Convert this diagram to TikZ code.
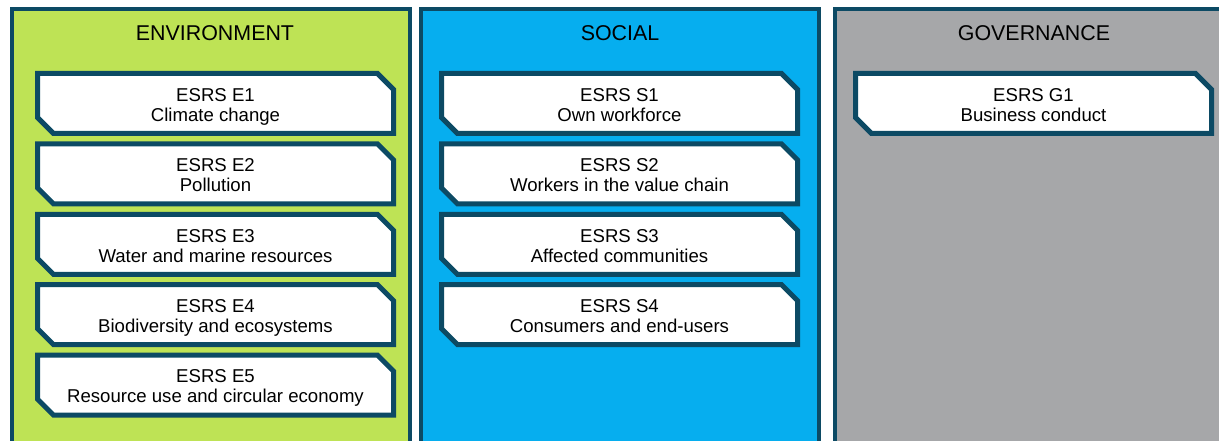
\documentclass[tikz,border=0pt]{standalone}
\usepackage{fontspec}
\setmainfont{Liberation Sans}
\usetikzlibrary{positioning, chains, shapes.misc}

\definecolor{esrsline}{RGB}{12,74,100}
\definecolor{envgreen}{RGB}{190,227,85}
\definecolor{socblue}{RGB}{6,174,239}
\definecolor{govgrey}{RGB}{166,167,169}

% code on the first line, topic on the second
\newcommand\esrs[2]{\rule{0pt}{15.4pt}#1\\\smash{#2}}

\begin{document}
\begin{tikzpicture}[
   x=1pt, y=-1pt,
   node distance = 10.4pt,
   column/.style = {draw=esrsline, line width=4pt, rectangle, outer sep=0pt,
      minimum width=398pt, minimum height=480pt, anchor=north},
   heading/.style = {font=\fontsize{21.4}{25}\selectfont},
   topic/.style = {chamfered rectangle,
      chamfered rectangle corners={north east, south west},
      chamfered rectangle xsep=8pt, chamfered rectangle ysep=8pt,
      draw=esrsline, fill=white, line width=5pt, outer sep=0pt,
      minimum width=356pt, minimum height=60pt, inner sep=0pt,
      align=center, font=\fontsize{18.6}{20}\selectfont, on chain}]
   \useasboundingbox (0,0) rectangle (1219,441);
   \clip (0,0) rectangle (1219,441);

   % the three pillars
   \node[column, fill=envgreen] (env) at (210.5,9) {};
   \node[column, fill=socblue]  (soc) at (620,9) {};
   \node[column, fill=govgrey]  (gov) at (1034,9) {};

   \node[heading] (env-head) at (215,33) {ENVIRONMENT};
   \node[heading] (soc-head) at (620,33) {SOCIAL};
   \node[heading] (gov-head) at (1034,33) {GOVERNANCE};

   % environmental standards
   \begin{scope}[start chain = going below]
   \node[topic, at={(215.5,103.5)}] (e1) {\esrs{ESRS E1}{Climate change}};
   \node[topic] (e2) {\esrs{ESRS E2}{Pollution}};
   \node[topic] (e3) {\esrs{ESRS E3}{Water and marine resources}};
   \node[topic] (e4) {\esrs{ESRS E4}{Biodiversity and ecosystems}};
   \node[topic] (e5) {\esrs{ESRS E5}{Resource use and circular economy}};
   \end{scope}

   % social standards
   \begin{scope}[start chain = going below]
   \node[topic, at={(619.5,103.5)}] (s1) {\esrs{ESRS S1}{Own workforce}};
   \node[topic] (s2) {\esrs{ESRS S2}{Workers in the value chain}};
   \node[topic] (s3) {\esrs{ESRS S3}{Affected communities}};
   \node[topic] (s4) {\esrs{ESRS S4}{Consumers and end-users}};
   \end{scope}

   % governance standard
   \begin{scope}[start chain = going below]
   \node[topic, at={(1033.5,103.5)}] (g1) {\esrs{ESRS G1}{Business conduct}};
   \end{scope}
\end{tikzpicture}
\end{document}
